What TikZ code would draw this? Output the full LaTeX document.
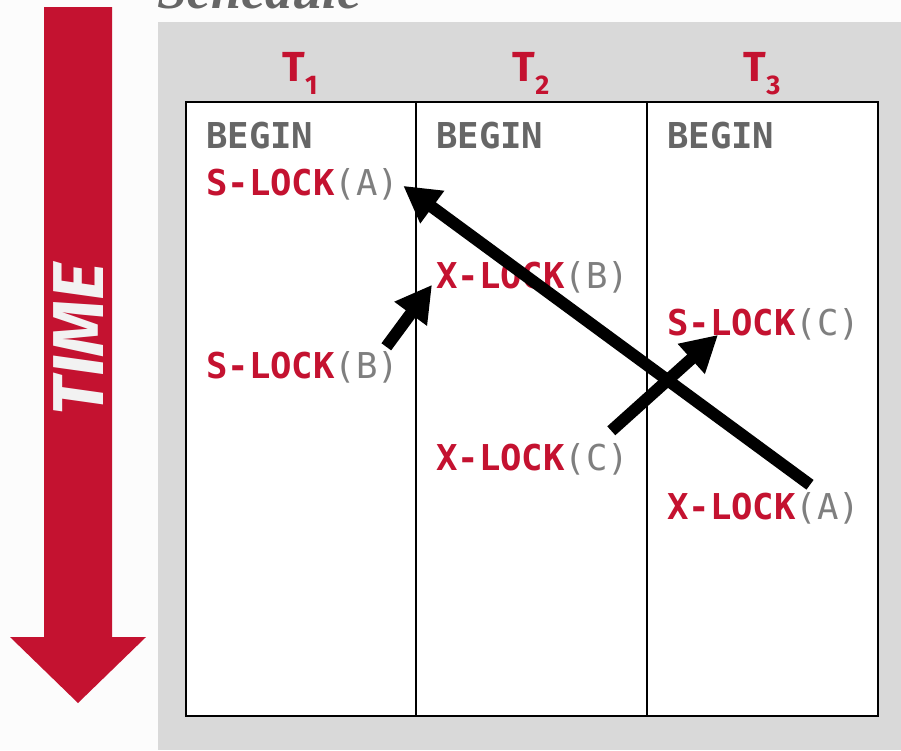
\documentclass[tikz,border=0pt]{standalone}
\usepackage{fontspec}
\setmainfont{Fira Sans}
\setmonofont{DejaVu Sans Mono}
\newfontfamily\titlefont{Liberation Serif}
\usetikzlibrary{arrows.meta}

\definecolor{cmured}{HTML}{C41230}
\definecolor{panelgray}{HTML}{D9D9D9}
\definecolor{pagebg}{HTML}{FCFCFC}
\definecolor{begingray}{HTML}{666666}
\definecolor{objgray}{HTML}{7F7F7F}
\definecolor{timewhite}{HTML}{F2F2F2}

% lock request: red verb, gray object
\newcommand{\lockreq}[2]{{\bfseries\color{cmured}#1}{\mdseries\color{objgray}(#2)}}

\tikzset{
  op/.style={anchor=base west, inner sep=0pt, font=\ttfamily\fontsize{35.6}{40}\selectfont},
  beginop/.style={op, text=begingray, font=\ttfamily\bfseries\fontsize{35.6}{40}\selectfont},
  txn/.style={anchor=base, inner sep=0pt, text=cmured, font=\bfseries\fontsize{42}{48}\selectfont},
  waitfor/.style={line width=12pt, -{Triangle[length=36pt,width=38pt]}},
}

\newcommand{\txname}[1]{T\raisebox{-0.32em}{\fontsize{27}{30}\selectfont #1}}

\begin{document}
\begin{tikzpicture}[x=1pt,y=-1pt]
\useasboundingbox (0,0) rectangle (901,750);
\clip (0,0) rectangle (901,750);
\fill[pagebg] (0,0) rectangle (901,750);

% panel and title
\fill[panelgray] (158,22) rectangle (901,750);
\node[anchor=base west, inner sep=0pt, text=begingray,
  font=\titlefont\bfseries\itshape\fontsize{54}{60}\selectfont] (title) at (157,8) {Schedule};

% time arrow
\fill[cmured] (44,7) -- (112,7) -- (112,637) -- (146,637) -- (78,703)
  -- (10,637) -- (44,637) -- cycle;
\node[rotate=90, text=timewhite, inner sep=0pt,
  font=\bfseries\itshape\fontsize{72}{80}\selectfont] (time) at (79,339) {TIME};

% table
\draw[line width=1.6pt, fill=white] (186,102) rectangle (878,716);
\draw[line width=1.6pt] (416,102) -- (416,716);
\draw[line width=1.6pt] (647,102) -- (647,716);

\node[txn] (t1) at (300,81) {\txname{1}};
\node[txn] (t2) at (531,81) {\txname{2}};
\node[txn] (t3) at (762,81) {\txname{3}};

% T1
\node[beginop] (b1) at (206,148) {BEGIN};
\node[op] (sa) at (206,195) {\lockreq{S-LOCK}{A}};
\node[op] (sb) at (206,378) {\lockreq{S-LOCK}{B}};
% T2
\node[beginop] (b2) at (436,148) {BEGIN};
\node[op] (xb) at (436,288) {\lockreq{X-LOCK}{B}};
\node[op] (xc) at (436,470) {\lockreq{X-LOCK}{C}};
% T3
\node[beginop] (b3) at (667,148) {BEGIN};
\node[op] (sc) at (667,335) {\lockreq{S-LOCK}{C}};
\node[op] (xa) at (667,519) {\lockreq{X-LOCK}{A}};

% waits-for arrows
\draw[waitfor] ([shift={(143,-7)}]xa.north west) -- ([shift={(4,2)}]sa.east);
\draw[waitfor] ([shift={(-13,-4)}]sb.north east) -- ([shift={(-4,8)}]xb.west);
\draw[waitfor] ([shift={(-18,-12)}]xc.north east) -- ([shift={(51,-5)}]sc.south west);
\end{tikzpicture}
\end{document}
